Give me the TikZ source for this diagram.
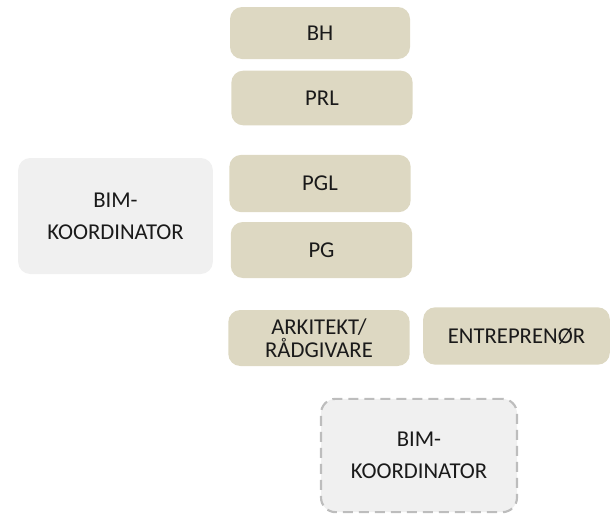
\documentclass[tikz,border=0pt]{standalone}
\usepackage{fontspec}
\setmainfont{Carlito}
\definecolor{tan}{HTML}{DDD8C2}
\definecolor{lightg}{HTML}{F0F0F0}
\definecolor{dashg}{HTML}{BDBDBD}
\definecolor{txt}{HTML}{1A1A1A}
\begin{document}
\begin{tikzpicture}[x=0.75pt,y=-0.75pt,
  box/.style={rounded corners=9pt, inner sep=0pt, align=center, text=txt,
    font=\fontsize{17}{19}\selectfont},
  role/.style={box, fill=tan},
  bim/.style={box, fill=lightg, font=\fontsize{17}{24}\selectfont},
  bimdash/.style={bim, rounded corners=11pt, draw=dashg, line width=1.6pt, dash pattern=on 7.5pt off 4.5pt}]
\useasboundingbox (0,0) rectangle (613,515);
\node[role, minimum width=135pt, minimum height=39pt] (bh) at (320,33) {BH};
\node[role, minimum width=136pt, minimum height=41pt] (prl) at (322,98) {PRL};
\node[role, minimum width=136pt, minimum height=43pt] (pgl) at (320,183.5) {PGL};
\node[role, minimum width=136pt, minimum height=42pt] (pg) at (321.5,250) {PG};
\node[bim, minimum width=146pt, minimum height=87pt] (bim1) at (115.5,216) {BIM-\\KOORDINATOR};
\node[role, minimum width=136pt, minimum height=42pt, font=\fontsize{17}{17}\selectfont] (ark) at (319,338) {ARKITEKT/\\RÅDGIVARE};
\node[role, minimum width=140pt, minimum height=43pt] (ent) at (516.5,336) {ENTREPRENØR};
\node[bimdash, minimum width=147pt, minimum height=85pt] (bim2) at (419,455.5) {BIM-\\KOORDINATOR};
\end{tikzpicture}
\end{document}
